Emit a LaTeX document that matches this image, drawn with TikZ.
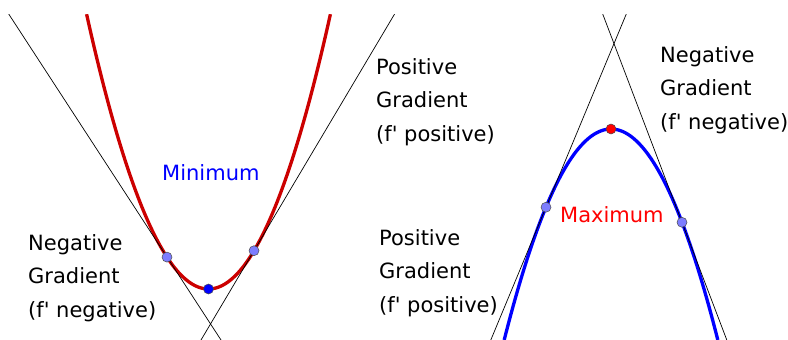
\documentclass[tikz,border=0pt]{standalone}
\usepackage{fontspec}
\setmainfont{DejaVu Sans}
\newfontfamily\lblfont{DejaVu Sans}
\definecolor{curvered}{RGB}{204,0,0}
\definecolor{ptlight}{RGB}{125,125,255}
\begin{document}
\begin{tikzpicture}[x=1pt,y=-1pt,
  tangent/.style={black,line width=0.7pt},
  curve/.style={line width=3.3pt},
  pt/.style={circle,draw=black!70,line width=0.5pt,inner sep=0pt,minimum size=10pt},
  lbl/.style={font=\lblfont\fontsize{21}{33.5}\selectfont,align=left,anchor=north west,inner sep=0pt}]
\useasboundingbox[fill=white] (0,0) rectangle (788,340);
\begin{scope}
\clip (0,14) rectangle (788,340);
% tangent ends
\coordinate (l1a) at (8.7,14);
\coordinate (l1b) at (221,340);
\coordinate (l2a) at (394.6,14);
\coordinate (l2b) at (201,340);
\coordinate (r1a) at (626.3,14);
\coordinate (r1b) at (490.8,340);
\coordinate (r2a) at (602.7,14);
\coordinate (r2b) at (726.8,340);
% curves
\draw[curve,curvered] plot[domain=86.6:330.4,samples=80,smooth] (\x,{289-0.0185*(\x-208.5)*(\x-208.5)});
\draw[curve,blue] plot[domain=504.2:717.8,samples=80,smooth] (\x,{129+0.0185*(\x-611)*(\x-611)});
\draw[tangent] (l1a) -- (l1b);
\draw[tangent] (l2a) -- (l2b);
\draw[tangent] (r1a) -- (r1b);
\draw[tangent] (r2a) -- (r2b);
\end{scope}
\node[pt,fill=ptlight] (pA) at (167,257.1) {};
\node[pt,fill=ptlight] (pB) at (254,250.7) {};
\node[pt,fill=blue] (pmin) at (208.5,289) {};
\node[pt,fill=ptlight] (pC) at (546,207.2) {};
\node[pt,fill=ptlight] (pD) at (682,222.3) {};
\node[pt,fill=red] (pmax) at (611,129) {};
% labels
\node[lbl,text=blue] (tmin) at (162,164) {Minimum};
\node[lbl,text=red] (tmax) at (560,206) {Maximum};
\node[lbl] (tnegL) at (28,234) {Negative\\Gradient\\(f' negative)};
\node[lbl] (tposT) at (376,58) {Positive\\Gradient\\(f' positive)};
\node[lbl] (tnegR) at (660,46) {Negative\\Gradient\\(f' negative)};
\node[lbl] (tposB) at (379,229) {Positive\\Gradient\\(f' positive)};
\end{tikzpicture}
\end{document}
